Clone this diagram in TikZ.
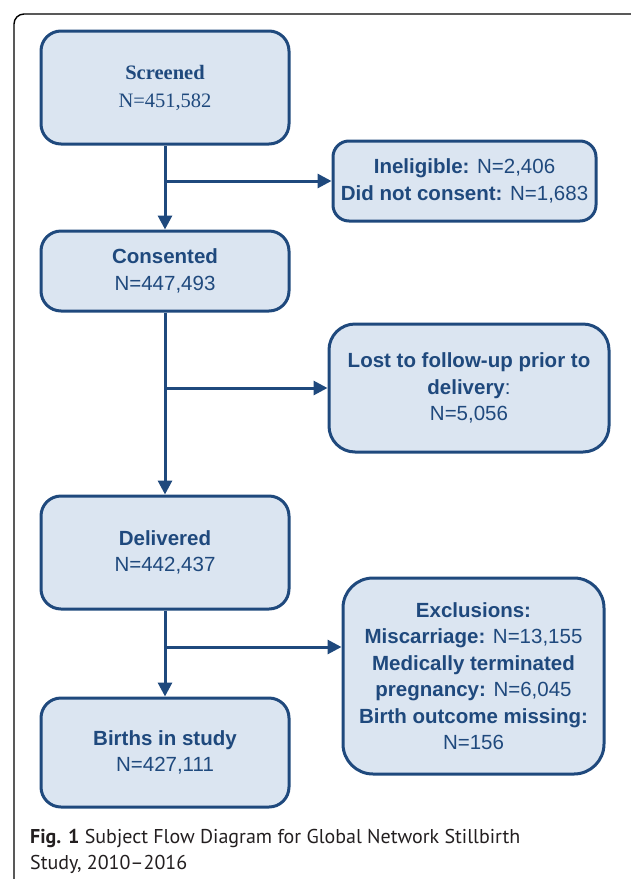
\documentclass[tikz,border=0pt]{standalone}
\usepackage{fontspec}
\usepackage{xcolor}
\usepackage{tikz}
\usetikzlibrary{arrows.meta}
\setmainfont{Liberation Sans}
\newfontfamily\timesfont{Liberation Serif}
\newfontfamily\capfont{PT Sans}
\definecolor{boxline}{HTML}{1F497D}
\definecolor{boxfill}{HTML}{DBE5F1}
\definecolor{captext}{HTML}{231F20}
\tikzset{
  flowbox/.style={draw=boxline, fill=boxfill, line width=3pt, rounded corners=20pt,
    text=boxline, align=center, inner sep=0pt,
    font=\fontsize{20.5}{26.5}\selectfont},
  flowarr/.style={draw=boxline, line width=3pt, -{Triangle[length=14pt,width=14pt]}},
}
\begin{document}
\begin{tikzpicture}[x=1pt,y=-1pt]
		\useasboundingbox (0,0) rectangle (631,879);
		\begin{scope}
			\clip (0,0) rectangle (631,879);
			\draw[line width=1.4pt, rounded corners=10pt] (14,900) -- (14,14) -- (650,14);
		\end{scope}

		\node[flowbox, minimum width=248pt, minimum height=113pt,
			font=\fontsize{20.5}{28}\selectfont\timesfont] (screen) at (165,87.5)
			{\textbf{Screened}\\N=451,582};
		\node[flowbox, minimum width=263pt, minimum height=80pt, rounded corners=16pt] (inel) at (464.5,181)
			{\textbf{Ineligible:} N=2,406\\\textbf{Did not consent:} N=1,683};
		\node[flowbox, minimum width=248pt, minimum height=80pt] (consent) at (165,271)
			{\textbf{Consented}\\N=447,493};
		\node[flowbox, minimum width=280pt, minimum height=128pt, rounded corners=26pt] (lost) at (469,388)
			{\textbf{Lost to follow-up prior to}\\\textbf{delivery}:\\N=5,056};
		\node[flowbox, minimum width=248pt, minimum height=113pt] (deliv) at (165,552.5)
			{\textbf{Delivered}\\N=442,437};
		\node[flowbox, minimum width=261pt, minimum height=196pt, rounded corners=30pt] (excl) at (473.5,676)
			{\textbf{Exclusions:}\\\textbf{Miscarriage:} N=13,155\\\textbf{Medically terminated}\\
			 \textbf{pregnancy:} N=6,045\\\textbf{Birth outcome missing:}\\N=156};
		\node[flowbox, minimum width=248pt, minimum height=109pt] (births) at (165,752.5)
			{\textbf{Births in study}\\N=427,111};

		\draw[flowarr] (screen.south) -- (consent.north);
		\draw[flowarr] (screen.south |- inel.west) -- (inel.west);
		\draw[flowarr] (consent.south) -- (deliv.north);
		\draw[flowarr] (consent.south |- lost.west) -- (lost.west);
		\draw[flowarr] (deliv.south) -- (births.north);
		\coordinate (excljoin) at (165,647);
		\draw[flowarr] (excljoin) -- (excljoin -| excl.west);

		\node[anchor=west, align=left, inner sep=0pt, text=captext,
			font=\fontsize{20}{26}\selectfont\capfont] (caption) at (30,851)
			{\textbf{Fig. 1} Subject Flow Diagram for Global Network Stillbirth\\Study, 2010–2016};
	\end{tikzpicture}
\end{document}
